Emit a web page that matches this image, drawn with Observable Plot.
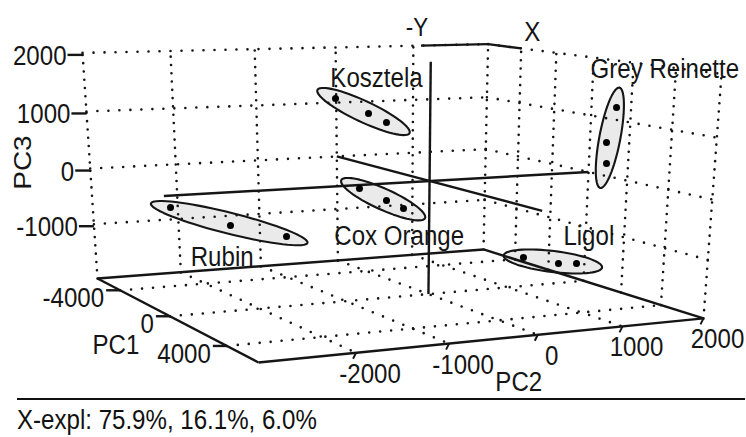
<!DOCTYPE html>
<html>
<head>
<meta charset="utf-8">
<script src="https://cdn.jsdelivr.net/npm/d3@7"></script>
<script src="https://cdn.jsdelivr.net/npm/@observablehq/plot@0.6"></script>
<style>
  body { margin: 0; background: #fff; font-family: "Liberation Sans", Arial, sans-serif; }
  #caption { margin-left: 17px; width: 728px; border-top: 2.5px solid #111; padding-top: 5px;
             font-size: 28px; line-height: 30px; color: #111; white-space: nowrap; }
  #caption span { display: inline-block; transform: scaleX(0.86); transform-origin: left center; }
</style>
</head>
<body>
<div id="chart"></div>
<div id="caption"><span>X-expl: 75.9%, 16.1%, 6.0%</span></div>
<script>
// ---------------- data (PCA scores) ----------------
const groupNames = ["Rubin", "Kosztela", "Cox Orange", "Grey Reinette", "Ligol"];
const sampleGroup = ["Rubin","Rubin","Rubin",
                     "Kosztela","Kosztela","Kosztela",
                     "Cox Orange","Cox Orange","Cox Orange",
                     "Grey Reinette","Grey Reinette","Grey Reinette",
                     "Ligol","Ligol","Ligol"];
const pc1 = [-4000, -4000, -4000, -2000, -2000, -2000, 0, 0, 0, 3000, 3000, 3000, 5000, 5000, 5000];
const pc2 = [-2370, -1676, -1001, -734, -343, -126, -831, -514, -311, 1560, 1458, 1471, 38, 449, 663];
const pc3 = [-584, -972, -1241, 1325, 1049, 882, -60, -292, -448, 1332, 760, 408, -844, -989, -1013];

// axis extents and ticks
const pc1Domain = [-6000, 6000];
const pc2Domain = [-3000, 2000];
const pc3Domain = [-2000, 2000];
const pc1Ticks = [-4000, 0, 4000];
const pc2Ticks = [-2000, -1000, 0, 1000, 2000];
const pc3Ticks = [-1000, 0, 1000, 2000];
const pc1WallGrid = [-4000, -2000, 0, 2000, 4000];
const pc2WallGrid = [-2000, -1000, 0, 1000];
const explained = "X-expl: 75.9%, 16.1%, 6.0%";

// ---------------- view (perspective camera, layout only) ----------------
const camera = [
  [113.9, 434.8, -19.02, 97],
  [17.9, -3.9, -228.2, 278],
  [-0.1825, 0.101, -0.0494, 1]
];
const norm = (v, [a, b]) => (v - a) / (b - a);
function project([p1, p2, p3]) {
  const v = [norm(p1, pc1Domain), norm(p2, pc2Domain), norm(p3, pc3Domain), 1];
  const h = camera.map(r => r[0]*v[0] + r[1]*v[1] + r[2]*v[2] + r[3]*v[3]);
  return [h[0] / h[2], h[1] / h[2]];
}

const samples = sampleGroup.map((g, i) => ({group: g, pc1: pc1[i], pc2: pc2[i], pc3: pc3[i]}));

// ---------------- build segments ----------------
const [x0, x1] = pc1Domain, [y0, y1] = pc2Domain, [z0, z1] = pc3Domain;
const vertDotted = [], horizDotted = [];
// left wall (PC1 = min)
for (const v of [y0, ...pc2WallGrid, y1]) vertDotted.push({a: [x0, v, z0], b: [x0, v, z1]});
for (const w of pc3Ticks) horizDotted.push({a: [x0, y0, w], b: [x0, y1, w]});
// right wall (PC2 = max)
for (const u of [...pc1WallGrid, x1]) vertDotted.push({a: [u, y1, z0], b: [u, y1, z1]});
for (const w of pc3Ticks) horizDotted.push({a: [x0, y1, w], b: [x1, y1, w]});
// floor
for (const u of pc1Ticks) horizDotted.push({a: [u, y0, z0], b: [u, y1, z0]});
for (const v of pc2WallGrid) horizDotted.push({a: [x0, v, z0], b: [x1, v, z0]});

const solid = [
  {a: [x0, y0, z0], b: [x1, y0, z0]},
  {a: [x1, y0, z0], b: [x1, y1, z0]},
  {a: [x1, y1, z0], b: [x0, y1, z0]},
  {a: [x0, y1, z0], b: [x0, y0, z0]},
  {a: [0, 0, z0], b: [0, 0, z1]},
  {a: [x0, 0, 0], b: [x1, 0, 0]},
  {a: [0, y0, 0], b: [0, y1, 0]},
  {a: [x0, 1100, z1], b: [x0, y1, z1]},
  {a: [x0, y1, z1], b: [-4000, y1, z1]}
];

// ---------------- ellipses around groups (screen space) ----------------
const ellipseMinor = 10.5, ellipsePad = 20;
const groupCenters = [];
const ellipsePts = [];
for (const g of groupNames) {
  const pts = samples.filter(d => d.group === g).map(d => project([d.pc1, d.pc2, d.pc3]));
  const mx = d3.mean(pts, p => p[0]), my = d3.mean(pts, p => p[1]);
  let sxx = 0, syy = 0, sxy = 0;
  for (const [x, y] of pts) { sxx += (x-mx)**2; syy += (y-my)**2; sxy += (x-mx)*(y-my); }
  const th = 0.5 * Math.atan2(2*sxy, sxx - syy);
  const ux = Math.cos(th), uy = Math.sin(th);
  const A = d3.max(pts, ([x, y]) => Math.abs((x-mx)*ux + (y-my)*uy)) + ellipsePad;
  const B = ellipseMinor;
  for (let i = 0; i <= 72; i++) {
    const t = i / 72 * 2 * Math.PI, ca = Math.cos(t) * A, sb = Math.sin(t) * B;
    ellipsePts.push({group: g, x: mx + ca*ux - sb*uy, y: my + ca*uy + sb*ux});
  }
  groupCenters.push({group: g, x: mx, y: my});
}
const labelOffset = {
  "Rubin": [-7, 34], "Kosztela": [13, -33], "Cox Orange": [16, 37],
  "Grey Reinette": [55, -69], "Ligol": [36, -25]
};

// ---------------- plot ----------------
const FONT = '"Liberation Sans", Arial, sans-serif';
const P = d => project(d);
const sx = d => P(d)[0], sy = d => P(d)[1];
const ink = "#151515";

const pc3TickPts = pc3Ticks.map(v => [x0, y0, v]);
const pc1TickPts = pc1Ticks.map(v => [v, y0, z0]);
const pc2TickPts = pc2Ticks.map(v => [x1, v, z0]);

const chart = Plot.plot({
  width: 746, height: 398, margin: 0,
  x: {type: "identity", axis: null},
  y: {type: "identity", axis: null},
  style: {fontFamily: FONT, background: "#fff"},
  marks: [
    Plot.line(ellipsePts, {x: "x", y: "y", z: "group", fill: "#dcdcdc", fillOpacity: 0.6, stroke: "none"}),
    Plot.link(vertDotted, {x1: d => sx(d.a), y1: d => sy(d.a), x2: d => sx(d.b), y2: d => sy(d.b),
      stroke: ink, strokeWidth: 2.6, strokeDasharray: "0,8.3", strokeLinecap: "round"}),
    Plot.link(horizDotted, {x1: d => sx(d.a), y1: d => sy(d.a), x2: d => sx(d.b), y2: d => sy(d.b),
      stroke: ink, strokeWidth: 2.6, strokeDasharray: "0,11", strokeLinecap: "round"}),
    Plot.link(solid, {x1: d => sx(d.a), y1: d => sy(d.a), x2: d => sx(d.b), y2: d => sy(d.b),
      stroke: ink, strokeWidth: 2.4}),
    // tick marks
    Plot.link(pc3TickPts, {x1: d => sx(d), y1: d => sy(d) + 2, x2: d => sx(d) - 15, y2: d => sy(d) + 2, stroke: ink, strokeWidth: 2.4}),
    Plot.link(pc1TickPts, {x1: d => sx(d), y1: d => sy(d), x2: d => sx(d) - 14, y2: d => sy(d), stroke: ink, strokeWidth: 2.4}),
    Plot.link(pc2TickPts, {x1: d => sx(d), y1: d => sy(d), x2: d => sx(d) - 3, y2: d => sy(d) + 6, stroke: ink, strokeWidth: 2}),
    // ellipse outlines
    Plot.line(ellipsePts, {x: "x", y: "y", z: "group", stroke: ink, strokeWidth: 2.1}),
    // sample points
    Plot.dot(samples, {x: d => sx([d.pc1, d.pc2, d.pc3]), y: d => sy([d.pc1, d.pc2, d.pc3]), r: 3.5, fill: "#000", stroke: "none"}),
    // group labels
    Plot.text(groupCenters, {x: d => d.x + labelOffset[d.group][0], y: d => d.y + labelOffset[d.group][1],
      text: "group", fontSize: 28, fontFamily: FONT, fill: ink}),
    // tick labels
    Plot.text(pc3TickPts, {x: d => sx(d) - 16, y: d => sy(d) + 3, text: d => String(d[2]), textAnchor: "end", fontSize: 28, fontFamily: FONT, fill: ink}),
    Plot.text(pc1TickPts, {x: d => sx(d) - 16, y: d => sy(d) + 8, text: d => String(d[0]), textAnchor: "end", fontSize: 28, fontFamily: FONT, fill: ink}),
    Plot.text(pc2TickPts, {x: d => sx(d) + 14, y: d => sy(d) + 21, text: d => String(d[1]), fontSize: 28, fontFamily: FONT, fill: ink}),
    // axis titles
    Plot.text([[x0, y0, 0]], {x: d => sx(d) - 67, y: d => sy(d) - 6, text: ["PC3"], rotate: -90, fontSize: 28, fontFamily: FONT, fill: ink}),
    Plot.text([[0, y0, z0]], {x: d => sx(d) - 54, y: d => sy(d) + 29, text: ["PC1"], fontSize: 28, fontFamily: FONT, fill: ink}),
    Plot.text([[x1, 0, z0]], {x: d => sx(d) - 19, y: d => sy(d) + 47, text: ["PC2"], fontSize: 28, fontFamily: FONT, fill: ink}),
    Plot.text([[x0, 1100, z1]], {x: d => sx(d) - 4, y: d => sy(d) - 18, text: ["-Y"], fontSize: 26, fontFamily: FONT, fill: ink}),
    Plot.text([[-4000, y1, z1]], {x: d => sx(d) + 11, y: d => sy(d) - 16, text: ["X"], fontSize: 28, fontFamily: FONT, fill: ink})
  ]
});

// horizontal squeeze of the lettering, as in the reference
chart.querySelectorAll("text").forEach(t => {
  let tr = t.getAttribute("transform");
  if (tr == null) {
    const x = t.getAttribute("x") || 0, y = t.getAttribute("y") || 0;
    t.removeAttribute("x"); t.removeAttribute("y");
    tr = `translate(${x},${y})`;
  }
  tr = tr.includes("rotate") ? tr.replace("rotate", "scale(0.86,1) rotate") : tr + " scale(0.86,1)";
  t.setAttribute("transform", tr);
});
document.getElementById("chart").appendChild(chart);
</script>
</body>
</html>
